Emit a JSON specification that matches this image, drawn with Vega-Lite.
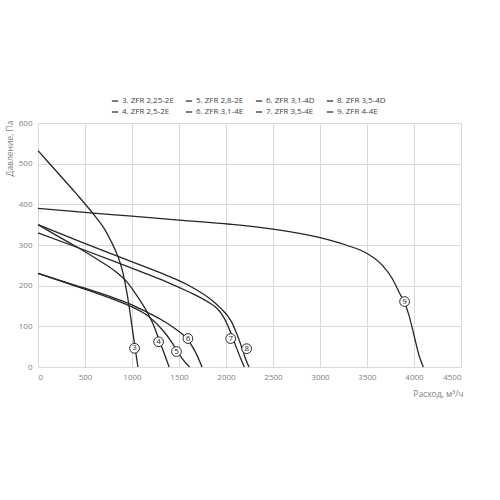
{
  "$schema": "https://vega.github.io/schema/vega-lite/v6.json",
  "autosize": {"type": "none"},
  "width": 423,
  "height": 244,
  "padding": {"left": 38, "top": 123, "right": 39, "bottom": 133},
  "background": "white",
  "config": {
    "view": {"stroke": null},
    "font": "Open Sans",
    "axis": {
      "domain": false,
      "ticks": false,
      "gridColor": "#d9d9d9",
      "gridWidth": 1,
      "labelColor": "#7f7f7f",
      "labelFontSize": 8,
      "labelFont": "Open Sans",
      "titleFont": "Open Sans",
      "titleFontWeight": "normal",
      "titleColor": "#7f7f7f",
      "titleFontSize": 8.5
    }
  },
  "datasets": {
    "curves": [
      {"s": "3. ZFR 2,25-2E", "q": 0, "p": 532},
      {"s": "3. ZFR 2,25-2E", "q": 200, "p": 480},
      {"s": "3. ZFR 2,25-2E", "q": 400, "p": 428},
      {"s": "3. ZFR 2,25-2E", "q": 600, "p": 373},
      {"s": "3. ZFR 2,25-2E", "q": 700, "p": 342},
      {"s": "3. ZFR 2,25-2E", "q": 780, "p": 308},
      {"s": "3. ZFR 2,25-2E", "q": 850, "p": 272},
      {"s": "3. ZFR 2,25-2E", "q": 900, "p": 235},
      {"s": "3. ZFR 2,25-2E", "q": 940, "p": 190},
      {"s": "3. ZFR 2,25-2E", "q": 970, "p": 148},
      {"s": "3. ZFR 2,25-2E", "q": 1000, "p": 100},
      {"s": "3. ZFR 2,25-2E", "q": 1030, "p": 52},
      {"s": "3. ZFR 2,25-2E", "q": 1063, "p": 0},
      {"s": "4. ZFR 2,5-2E", "q": 0, "p": 350},
      {"s": "4. ZFR 2,5-2E", "q": 200, "p": 323},
      {"s": "4. ZFR 2,5-2E", "q": 437, "p": 292},
      {"s": "4. ZFR 2,5-2E", "q": 650, "p": 262},
      {"s": "4. ZFR 2,5-2E", "q": 818, "p": 236},
      {"s": "4. ZFR 2,5-2E", "q": 950, "p": 208},
      {"s": "4. ZFR 2,5-2E", "q": 1050, "p": 176},
      {"s": "4. ZFR 2,5-2E", "q": 1168, "p": 132},
      {"s": "4. ZFR 2,5-2E", "q": 1238, "p": 98},
      {"s": "4. ZFR 2,5-2E", "q": 1283, "p": 70},
      {"s": "4. ZFR 2,5-2E", "q": 1343, "p": 33},
      {"s": "4. ZFR 2,5-2E", "q": 1395, "p": 0},
      {"s": "5. ZFR 2,8-2E", "q": 0, "p": 230},
      {"s": "5. ZFR 2,8-2E", "q": 400, "p": 199},
      {"s": "5. ZFR 2,8-2E", "q": 818, "p": 165},
      {"s": "5. ZFR 2,8-2E", "q": 1000, "p": 148},
      {"s": "5. ZFR 2,8-2E", "q": 1168, "p": 126},
      {"s": "5. ZFR 2,8-2E", "q": 1343, "p": 86},
      {"s": "5. ZFR 2,8-2E", "q": 1420, "p": 62},
      {"s": "5. ZFR 2,8-2E", "q": 1472, "p": 43},
      {"s": "5. ZFR 2,8-2E", "q": 1530, "p": 22},
      {"s": "5. ZFR 2,8-2E", "q": 1612, "p": 0},
      {"s": "6. ZFR 3,1-4E", "q": 0, "p": 230},
      {"s": "6. ZFR 3,1-4E", "q": 400, "p": 201},
      {"s": "6. ZFR 3,1-4E", "q": 818, "p": 169},
      {"s": "6. ZFR 3,1-4E", "q": 1000, "p": 153},
      {"s": "6. ZFR 3,1-4E", "q": 1168, "p": 134},
      {"s": "6. ZFR 3,1-4E", "q": 1300, "p": 118},
      {"s": "6. ZFR 3,1-4E", "q": 1448, "p": 96},
      {"s": "6. ZFR 3,1-4E", "q": 1540, "p": 80},
      {"s": "6. ZFR 3,1-4E", "q": 1600, "p": 65},
      {"s": "6. ZFR 3,1-4E", "q": 1650, "p": 47},
      {"s": "6. ZFR 3,1-4E", "q": 1693, "p": 28},
      {"s": "6. ZFR 3,1-4E", "q": 1745, "p": 0},
      {"s": "7. ZFR 3,5-4E", "q": 0, "p": 330},
      {"s": "7. ZFR 3,5-4E", "q": 442, "p": 292},
      {"s": "7. ZFR 3,5-4E", "q": 818, "p": 259},
      {"s": "7. ZFR 3,5-4E", "q": 1141, "p": 230},
      {"s": "7. ZFR 3,5-4E", "q": 1361, "p": 210},
      {"s": "7. ZFR 3,5-4E", "q": 1600, "p": 185},
      {"s": "7. ZFR 3,5-4E", "q": 1800, "p": 161},
      {"s": "7. ZFR 3,5-4E", "q": 1900, "p": 145},
      {"s": "7. ZFR 3,5-4E", "q": 1960, "p": 128},
      {"s": "7. ZFR 3,5-4E", "q": 2010, "p": 107},
      {"s": "7. ZFR 3,5-4E", "q": 2050, "p": 84},
      {"s": "7. ZFR 3,5-4E", "q": 2090, "p": 60},
      {"s": "7. ZFR 3,5-4E", "q": 2130, "p": 36},
      {"s": "7. ZFR 3,5-4E", "q": 2165, "p": 16},
      {"s": "7. ZFR 3,5-4E", "q": 2195, "p": 0},
      {"s": "8. ZFR 3,5-4D", "q": 0, "p": 350},
      {"s": "8. ZFR 3,5-4D", "q": 442, "p": 309},
      {"s": "8. ZFR 3,5-4D", "q": 818, "p": 275},
      {"s": "8. ZFR 3,5-4D", "q": 1141, "p": 246},
      {"s": "8. ZFR 3,5-4D", "q": 1361, "p": 226},
      {"s": "8. ZFR 3,5-4D", "q": 1600, "p": 201},
      {"s": "8. ZFR 3,5-4D", "q": 1850, "p": 164},
      {"s": "8. ZFR 3,5-4D", "q": 1950, "p": 143},
      {"s": "8. ZFR 3,5-4D", "q": 2020, "p": 125},
      {"s": "8. ZFR 3,5-4D", "q": 2070, "p": 106},
      {"s": "8. ZFR 3,5-4D", "q": 2110, "p": 84},
      {"s": "8. ZFR 3,5-4D", "q": 2150, "p": 60},
      {"s": "8. ZFR 3,5-4D", "q": 2185, "p": 36},
      {"s": "8. ZFR 3,5-4D", "q": 2215, "p": 16},
      {"s": "8. ZFR 3,5-4D", "q": 2245, "p": 0},
      {"s": "9. ZFR 4-4E", "q": 0, "p": 390},
      {"s": "9. ZFR 4-4E", "q": 654, "p": 377},
      {"s": "9. ZFR 4-4E", "q": 1000, "p": 371},
      {"s": "9. ZFR 4-4E", "q": 1500, "p": 361},
      {"s": "9. ZFR 4-4E", "q": 2041, "p": 351},
      {"s": "9. ZFR 4-4E", "q": 2500, "p": 339},
      {"s": "9. ZFR 4-4E", "q": 3000, "p": 318},
      {"s": "9. ZFR 4-4E", "q": 3276, "p": 300},
      {"s": "9. ZFR 4-4E", "q": 3500, "p": 279},
      {"s": "9. ZFR 4-4E", "q": 3664, "p": 250},
      {"s": "9. ZFR 4-4E", "q": 3770, "p": 217},
      {"s": "9. ZFR 4-4E", "q": 3841, "p": 184},
      {"s": "9. ZFR 4-4E", "q": 3900, "p": 158},
      {"s": "9. ZFR 4-4E", "q": 3947, "p": 127},
      {"s": "9. ZFR 4-4E", "q": 4000, "p": 78},
      {"s": "9. ZFR 4-4E", "q": 4053, "p": 29},
      {"s": "9. ZFR 4-4E", "q": 4099, "p": 0}
    ],
    "labels": [
      {"t": "3", "q": 1027, "p": 46},
      {"t": "4", "q": 1283, "p": 62},
      {"t": "5", "q": 1473, "p": 38},
      {"t": "6", "q": 1595, "p": 70},
      {"t": "7", "q": 2050, "p": 70},
      {"t": "8", "q": 2220, "p": 45},
      {"t": "9", "q": 3900, "p": 161}
    ]
  },
  "encoding": {
    "x": {
      "field": "q", "type": "quantitative",
      "scale": {"domain": [0, 4500], "nice": false},
      "axis": {
        "values": [0, 500, 1000, 1500, 2000, 2500, 3000, 3500, 4000, 4500],
        "format": "d",
        "labelPadding": 6,
        "title": "Расход, м³/ч",
        "titleAnchor": "end",
        "titleAlign": "right",
        "titleX": 425,
        "titleY": 26,
        "titleBaseline": "middle"
      }
    },
    "y": {
      "field": "p", "type": "quantitative",
      "scale": {"domain": [0, 600], "nice": false},
      "axis": {
        "values": [0, 100, 200, 300, 400, 500, 600],
        "format": "d",
        "labelPadding": 6,
        "title": "Давление, Па",
        "titleAngle": -90,
        "titleAlign": "right",
        "titleBaseline": "middle",
        "titleX": -29,
        "titleY": -3
      }
    }
  },
  "layer": [
    {
      "data": {"name": "curves"},
      "mark": {"type": "line", "interpolate": "monotone", "strokeWidth": 1.3},
      "encoding": {
        "color": {
          "field": "s", "type": "nominal",
          "scale": {
            "domain": ["3. ZFR 2,25-2E", "5. ZFR 2,8-2E", "6. ZFR 3,1-4D", "8. ZFR 3,5-4D", "4. ZFR 2,5-2E", "6. ZFR 3,1-4E", "7. ZFR 3,5-4E", "9. ZFR 4-4E"],
            "range": ["#262626", "#262626", "#262626", "#262626", "#262626", "#262626", "#262626", "#262626"]
          },
          "legend": {
            "title": null,
            "orient": "none",
            "legendX": 73,
            "legendY": -26,
            "columns": 4,
            "direction": "horizontal",
            "columnPadding": 9,
            "rowPadding": 3,
            "labelFontSize": 8,
            "labelFont": "Open Sans",
            "labelColor": "#444444",
            "labelOffset": 3,
            "symbolType": "stroke",
            "symbolSize": 40,
            "symbolStrokeWidth": 1.2
          }
        }
      }
    },
    {
      "data": {"name": "labels"},
      "mark": {"type": "point", "shape": "circle", "filled": true, "fill": "white", "stroke": "#262626", "strokeWidth": 1, "size": 95, "opacity": 1}
    },
    {
      "data": {"name": "labels"},
      "mark": {"type": "text", "fontSize": 8, "font": "Open Sans", "color": "#262626", "baseline": "middle", "align": "center"},
      "encoding": {"text": {"field": "t"}}
    }
  ]
}
